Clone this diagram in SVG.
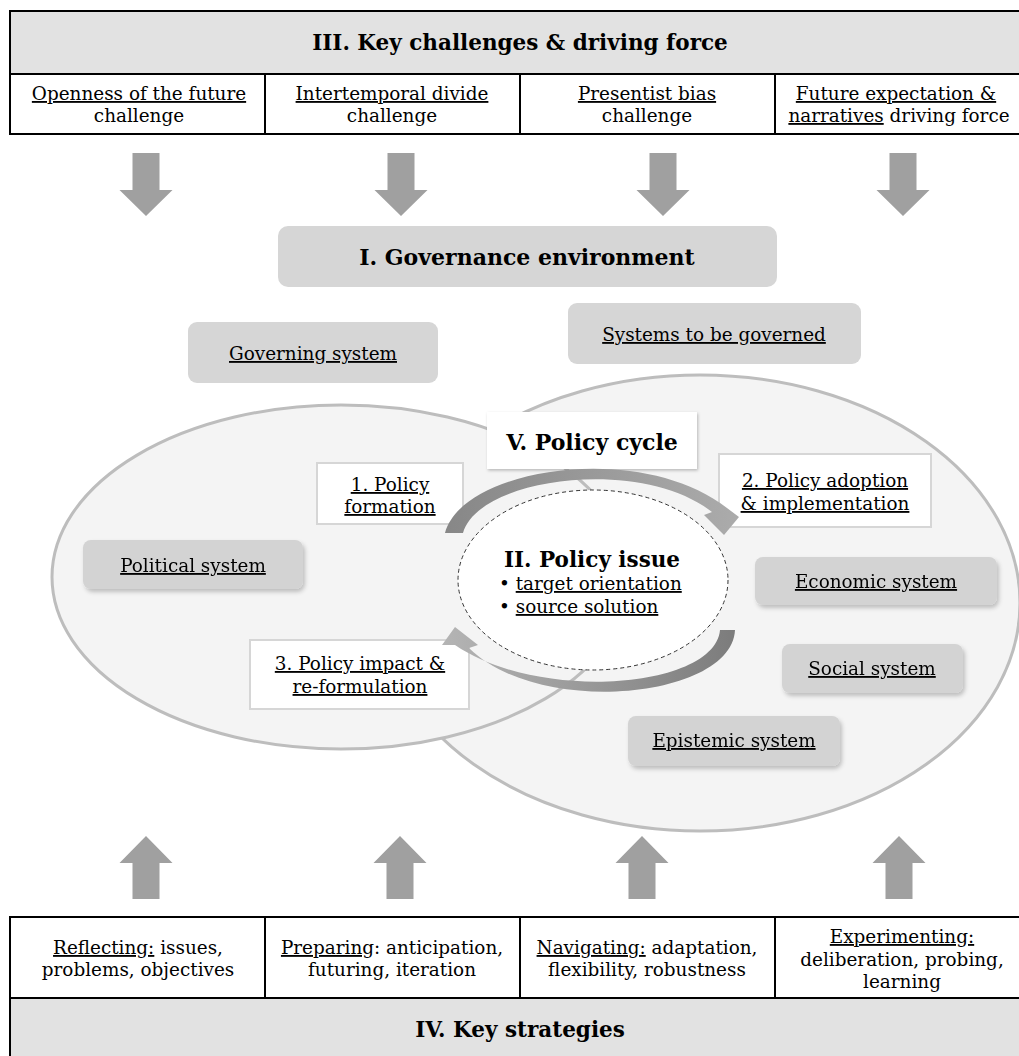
<svg xmlns="http://www.w3.org/2000/svg" xmlns:xlink="http://www.w3.org/1999/xlink" width="1019" height="1056" viewBox="0 0 1019 1056">
  <style>
    .t { font-family: "DejaVu Serif", "Liberation Serif", serif; font-size: 18.4px; fill: #000; text-anchor: middle; }
    .h { font-weight: bold; font-size: 21px; }
    .u { text-decoration: underline; }
    .tbl { fill: #fff; stroke: #000; stroke-width: 2; }
    .band { fill: #e2e2e2; stroke: #000; stroke-width: 2; }
    .rule { stroke: #000; stroke-width: 2; }
    .sys { fill: #d3d3d3; }
    .env { fill: #d6d6d6; }
    .step { fill: #fff; stroke: #d6d6d6; stroke-width: 2; }
    .big { fill: #f4f4f4; }
    .rim { fill: none; stroke: #bdbdbd; stroke-width: 3; }
    .blk { fill: #a0a0a0; }
  </style>
  <defs>
    <filter id="shadow" x="-10%" y="-20%" width="125%" height="150%">
      <feDropShadow dx="2" dy="3" stdDeviation="2" flood-color="#000" flood-opacity="0.22"/>
    </filter>
    <filter id="soft" x="-10%" y="-20%" width="125%" height="150%">
      <feDropShadow dx="1" dy="1.5" stdDeviation="1.5" flood-color="#000" flood-opacity="0.25"/>
    </filter>
    <polygon id="down" points="-13.5,0 13.5,0 13.5,37 26.5,37 0,63 -26.5,37 -13.5,37"/>
    <polygon id="up" points="-13.5,63 13.5,63 13.5,27 26.5,27 0,0 -26.5,27 -13.5,27"/>
    <linearGradient id="gTop" gradientUnits="userSpaceOnUse" x1="445" y1="0" x2="737" y2="0">
      <stop offset="0" stop-color="#878787"/>
      <stop offset="1" stop-color="#ababab"/>
    </linearGradient>
    <linearGradient id="gBot" gradientUnits="userSpaceOnUse" x1="735" y1="0" x2="445" y2="0">
      <stop offset="0" stop-color="#7c7c7c"/>
      <stop offset="1" stop-color="#b4b4b4"/>
    </linearGradient>
  </defs>

  <rect width="1019" height="1056" fill="#fff"/>

  <!-- III. challenges table -->
  <g id="challenges">
    <rect class="band" x="10" y="11" width="1020" height="63"/>
    <rect class="tbl" x="10" y="74" width="1020" height="60"/>
    <line class="rule" x1="265" y1="74" x2="265" y2="134"/>
    <line class="rule" x1="520" y1="74" x2="520" y2="134"/>
    <line class="rule" x1="775" y1="74" x2="775" y2="134"/>
    <text class="t h" x="520" y="50" style="font-size:21.5px">III. Key challenges &amp; driving force</text>
    <text class="t" x="139" y="100"><tspan class="u">Openness of the future</tspan></text>
    <text class="t" x="139" y="122">challenge</text>
    <text class="t" x="392" y="100"><tspan class="u">Intertemporal divide</tspan></text>
    <text class="t" x="392" y="122">challenge</text>
    <text class="t" x="647" y="100"><tspan class="u">Presentist bias</tspan></text>
    <text class="t" x="647" y="122">challenge</text>
    <text class="t" x="896" y="100"><tspan class="u">Future expectation &amp;</tspan></text>
    <text class="t" x="899" y="122"><tspan class="u">narratives</tspan> driving force</text>
  </g>

  <!-- I. Governance environment -->
  <g id="governance">
    <rect class="env" x="278" y="226" width="499" height="61" rx="10"/>
    <text class="t h" x="527" y="265" style="font-size:22px">I. Governance environment</text>
  </g>
  <g id="governing-system">
    <rect class="env" x="188" y="322" width="250" height="61" rx="9"/>
    <text class="t" x="313" y="360"><tspan class="u">Governing system</tspan></text>
  </g>
  <g id="governed-systems">
    <rect class="env" x="568" y="303" width="293" height="61" rx="9"/>
    <text class="t" x="714" y="341"><tspan class="u">Systems to be governed</tspan></text>
  </g>

  <!-- overlapping domains: governed systems (right) and political system (left) -->
  <g id="domains">
    <ellipse class="big" cx="700" cy="603" rx="320" ry="228"/>
    <ellipse class="rim" cx="700" cy="603" rx="320" ry="228"/>
    <ellipse class="big" cx="341" cy="577" rx="289" ry="172"/>
    <ellipse class="rim" cx="341" cy="577" rx="289" ry="172"/>
  </g>

  <g id="political-system" filter="url(#shadow)">
    <rect class="sys" x="83" y="540" width="220" height="49" rx="8"/>
    <text class="t" x="193" y="572"><tspan class="u">Political system</tspan></text>
  </g>
  <g id="economic-system" filter="url(#shadow)">
    <rect class="sys" x="755" y="557" width="242" height="48" rx="8"/>
    <text class="t" x="876" y="588"><tspan class="u">Economic system</tspan></text>
  </g>
  <g id="social-system" filter="url(#shadow)">
    <rect class="sys" x="782" y="644" width="181" height="49" rx="8"/>
    <text class="t" x="872" y="675"><tspan class="u">Social system</tspan></text>
  </g>
  <g id="epistemic-system" filter="url(#shadow)">
    <rect class="sys" x="628" y="716" width="212" height="50" rx="8"/>
    <text class="t" x="734" y="747"><tspan class="u">Epistemic system</tspan></text>
  </g>

  <!-- V. Policy cycle -->
  <g id="policy-cycle">
    <rect x="487" y="412" width="210" height="57" fill="#fff" filter="url(#soft)"/>
    <text class="t h" x="592" y="450" style="font-size:22px">V. Policy cycle</text>
  </g>
  <g id="step-formation">
    <rect class="step" x="317" y="463" width="146" height="61"/>
    <text class="t" x="390" y="491"><tspan class="u">1. Policy</tspan></text>
    <text class="t" x="390" y="513"><tspan class="u">formation</tspan></text>
  </g>
  <g id="step-adoption">
    <rect class="step" x="719" y="454" width="212" height="73"/>
    <text class="t" x="825" y="487"><tspan class="u">2. Policy adoption</tspan></text>
    <text class="t" x="825" y="510"><tspan class="u">&amp; implementation</tspan></text>
  </g>
  <g id="step-impact">
    <rect class="step" x="250" y="640" width="219" height="69"/>
    <text class="t" x="360" y="670"><tspan class="u">3. Policy impact &amp;</tspan></text>
    <text class="t" x="360" y="693"><tspan class="u">re-formulation</tspan></text>
  </g>

  <!-- II. Policy issue -->
  <g id="policy-issue">
    <ellipse cx="593" cy="580" rx="135" ry="90" fill="#fff" stroke="#333" stroke-width="1" stroke-dasharray="4 3"/>
    <text class="t h" x="592" y="567" style="font-size:21.5px">II. Policy issue</text>
    <text class="t" x="499" y="590" style="text-anchor:start">• <tspan class="u">target orientation</tspan></text>
    <text class="t" x="499" y="613" style="text-anchor:start">• <tspan class="u">source solution</tspan></text>
  </g>

  <!-- block arrows and the cycle arcs -->
  <g id="connectors">
    <use xlink:href="#down" class="blk" x="146" y="153"/>
    <use xlink:href="#down" class="blk" x="401" y="153"/>
    <use xlink:href="#down" class="blk" x="663" y="153"/>
    <use xlink:href="#down" class="blk" x="903" y="153"/>
    <use xlink:href="#up" class="blk" x="146" y="836"/>
    <use xlink:href="#up" class="blk" x="400" y="836"/>
    <use xlink:href="#up" class="blk" x="642" y="836"/>
    <use xlink:href="#up" class="blk" x="899" y="836"/>
    <path fill="url(#gTop)" d="M445,533 C462,468 640,440 727,508 L739,517 L724,535 L704,515 L712,512 C640,456 478,478 463,533 Z"/>
    <path fill="url(#gBot)" d="M735,630 C732,698 540,718 469,648 L478,645 L455,627 L442,645 L455,645 C540,703 715,688 720,630 Z"/>
  </g>

  <!-- IV. strategies table -->
  <g id="strategies">
    <rect class="tbl" x="10" y="917" width="1020" height="81"/>
    <rect class="band" x="10" y="998" width="1020" height="70"/>
    <line class="rule" x1="265" y1="917" x2="265" y2="998"/>
    <line class="rule" x1="520" y1="917" x2="520" y2="998"/>
    <line class="rule" x1="775" y1="917" x2="775" y2="998"/>
    <text class="t" x="138" y="954"><tspan class="u">Reflecting:</tspan> issues,</text>
    <text class="t" x="138" y="976">problems, objectives</text>
    <text class="t" x="392" y="954"><tspan class="u">Preparing</tspan>: anticipation,</text>
    <text class="t" x="392" y="976">futuring, iteration</text>
    <text class="t" x="647" y="954"><tspan class="u">Navigating:</tspan> adaptation,</text>
    <text class="t" x="647" y="976">flexibility, robustness</text>
    <text class="t" x="902" y="943"><tspan class="u">Experimenting:</tspan></text>
    <text class="t" x="902" y="966">deliberation, probing,</text>
    <text class="t" x="902" y="988">learning</text>
    <text class="t h" x="520" y="1037" style="font-size:21.5px">IV. Key strategies</text>
  </g>
</svg>
